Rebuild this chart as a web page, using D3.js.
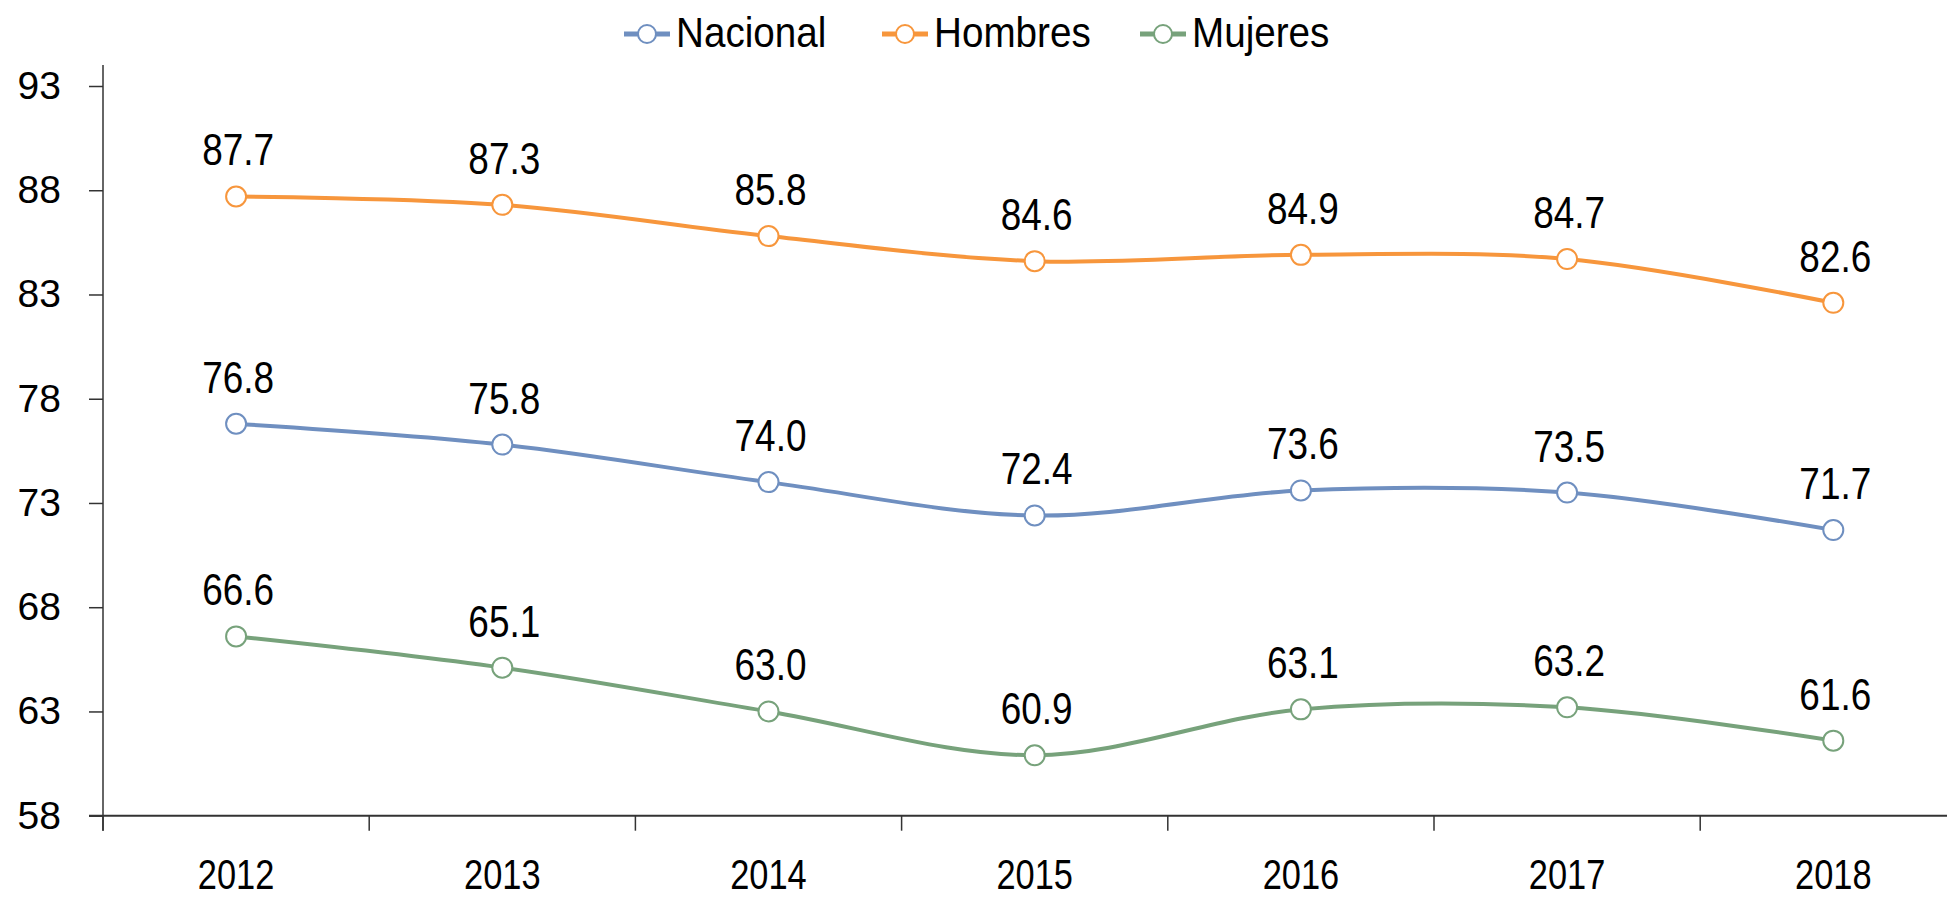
<!DOCTYPE html>
<html>
<head>
<meta charset="utf-8">
<script src="https://cdn.jsdelivr.net/npm/d3@7"></script>
<style>
  body { margin: 0; background: #fff; }
  svg { display: block; }
  text { font-family: "Liberation Sans", Arial, sans-serif; }
</style>
</head>
<body>
<div id="chart"></div>
<script>
// data
var years = ["2012", "2013", "2014", "2015", "2016", "2017", "2018"];
var nacional = [76.8, 75.8, 74.0, 72.4, 73.6, 73.5, 71.7];
var hombres  = [87.7, 87.3, 85.8, 84.6, 84.9, 84.7, 82.6];
var mujeres  = [66.6, 65.1, 63.0, 60.9, 63.1, 63.2, 61.6];
var yTicks = [58, 63, 68, 73, 78, 83, 88, 93];
var seriesNames = ["Nacional", "Hombres", "Mujeres"];
var seriesColors = ["#6f8fc0", "#f7963c", "#77a27b"];

var width = 1947, height = 897;
var left = 103, bandW = 266.2;

var svg = d3.select("#chart").append("svg")
  .attr("width", width)
  .attr("height", height);

var x = d3.scaleBand().domain(years).range([left, left + bandW * years.length]);
var y = d3.scaleLinear().domain([58, 93]).range([815.7, 86]);

function cx(i) { return x(years[i]) + x.bandwidth() / 2; }

// squeeze a text horizontally around its anchor (no narrow font installed)
function narrow(sel, k) {
  sel.each(function() {
    var t = d3.select(this);
    var tx = +t.attr("x") || 0, ty = +t.attr("y") || 0;
    t.attr("x", 0).attr("y", 0)
      .attr("transform", "translate(" + tx + "," + ty + ") scale(" + k + ",1)");
  });
}

// x axis (line runs to the right edge)
svg.append("line")
  .attr("x1", 89).attr("x2", width)
  .attr("y1", y(58)).attr("y2", y(58))
  .attr("stroke", "#333").attr("stroke-width", 2);

svg.selectAll("line.xtick")
  .data(years.map(function(d) { return x(d); }).concat([x(years[6]) + bandW]))
  .enter().append("line")
  .attr("class", "xtick")
  .attr("x1", function(d) { return d; }).attr("x2", function(d) { return d; })
  .attr("y1", y(58)).attr("y2", y(58) + 15)
  .attr("stroke", "#333").attr("stroke-width", 1.5);

svg.append("g").selectAll("text")
  .data(years)
  .enter().append("text")
  .attr("x", function(d, i) { return cx(i); })
  .attr("y", 889)
  .attr("text-anchor", "middle")
  .attr("fill", "#000")
  .style("font-size", "43px")
  .text(function(d) { return d; })
  .call(narrow, 0.8);

// y axis
var yAxis = d3.axisLeft(y).tickValues(yTicks).tickSize(14).tickPadding(28);
var gy = svg.append("g")
  .attr("transform", "translate(" + left + ",0)")
  .call(yAxis);
gy.select(".domain").remove();
gy.selectAll(".tick line").attr("stroke", "#333").attr("stroke-width", 1.5);
gy.selectAll("text")
  .attr("fill", "#000")
  .style("font-family", "'Liberation Sans', Arial, sans-serif")
  .style("font-size", "39px");

svg.append("line")
  .attr("x1", left).attr("x2", left)
  .attr("y1", 65).attr("y2", y(58) + 15)
  .attr("stroke", "#333").attr("stroke-width", 1.5);

// lines, markers, labels
var allSeries = [nacional, hombres, mujeres];
var line = d3.line()
  .x(function(d, i) { return cx(i); })
  .y(function(d) { return y(d); })
  .curve(d3.curveCardinal.tension(0));

allSeries.forEach(function(vals, s) {
  var g = svg.append("g");
  g.append("path")
    .datum(vals)
    .attr("d", line)
    .attr("fill", "none")
    .attr("stroke", seriesColors[s])
    .attr("stroke-width", 4);

  g.selectAll("circle")
    .data(vals)
    .enter().append("circle")
    .attr("cx", function(d, i) { return cx(i); })
    .attr("cy", function(d) { return y(d); })
    .attr("r", 10)
    .attr("fill", "#fff")
    .attr("stroke", seriesColors[s])
    .attr("stroke-width", 2);

  g.selectAll("text")
    .data(vals)
    .enter().append("text")
    .attr("x", function(d, i) { return cx(i) + 2; })
    .attr("y", function(d) { return y(d) - 31; })
    .attr("text-anchor", "middle")
    .attr("fill", "#000")
    .style("font-size", "44px")
    .text(function(d) { return d.toFixed(1); })
    .call(narrow, 0.84);
});

// legend
var legend = svg.append("g");
seriesNames.forEach(function(name, i) {
  var lx = 624 + i * 258, ly = 34;
  legend.append("line")
    .attr("x1", lx).attr("x2", lx + 46)
    .attr("y1", ly).attr("y2", ly)
    .attr("stroke", seriesColors[i]).attr("stroke-width", 5);
  legend.append("circle")
    .attr("cx", lx + 23).attr("cy", ly).attr("r", 9)
    .attr("fill", "#fff")
    .attr("stroke", seriesColors[i]).attr("stroke-width", 2);
  legend.append("text")
    .attr("x", lx + 52).attr("y", 47)
    .attr("fill", "#000")
    .style("font-size", "42px")
    .text(name)
    .call(narrow, 0.92);
});
</script>
</body>
</html>
